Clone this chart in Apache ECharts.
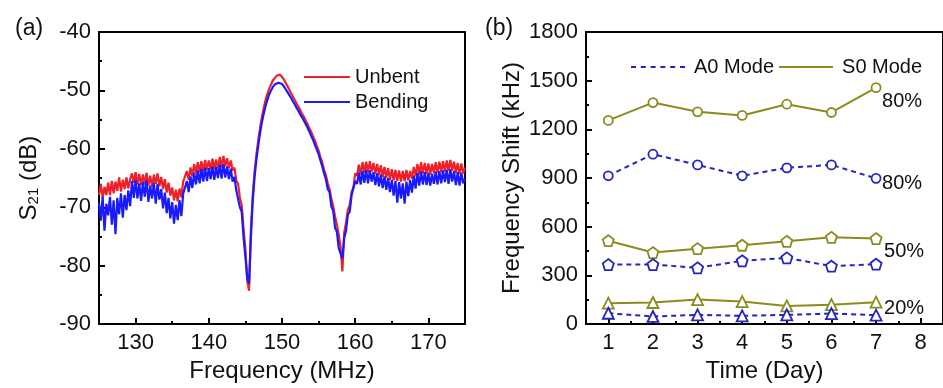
<!DOCTYPE html>
<html><head><meta charset="utf-8">
<script src="https://cdn.jsdelivr.net/npm/echarts@6/dist/echarts.min.js"></script>
<style>html,body{margin:0;padding:0;background:#fff}#c{width:943px;height:388px}</style>
</head><body><div id="c"></div>
<script>
// ---- Panel (a): S21 spectra, sampled every 0.25 MHz from 125 MHz ----
const freqStart = 125, freqStep = 0.25;
const unbent = [
-67.9,-66.0,-68.4,-66.5,-67.9,-65.8,-67.9,-65.5,-67.6,-65.6,-67.2,-64.9,-67.3,-65.3,-66.9,-64.9,-66.8,-65.2,-64.2,-65.8,
-64.0,-66.1,-64.3,-66.2,-64.4,-66.1,-64.1,-66.3,-64.6,-66.5,-64.4,-66.0,-64.2,-66.4,-64.8,-66.9,-65.2,-67.5,-65.8,-68.0,
-66.6,-68.8,-67.0,-69.0,-66.8,-68.3,-65.6,-65.9,-63.8,-65.3,-63.2,-64.7,-62.6,-64.2,-62.3,-64.0,-62.1,-63.9,-61.9,-63.6,
-62.0,-63.6,-61.7,-63.5,-61.8,-63.4,-61.4,-63.2,-61.2,-63.0,-61.6,-63.3,-62.0,-63.7,-63.2,-65.4,-66.0,-68.4,-69.6,-73.7,
-77.2,-82.6,-84.3,-73.8,-67.9,-63.9,-61.0,-58.6,-56.4,-54.6,-53.0,-51.7,-50.6,-49.7,-49.0,-48.3,-47.9,-47.5,-47.2,-47.3,
-47.6,-48.1,-48.7,-49.3,-49.9,-50.5,-51.1,-51.7,-52.3,-52.8,-53.4,-54.0,-54.5,-55.2,-55.8,-56.5,-57.1,-57.9,-58.6,-59.5,
-60.3,-61.4,-62.3,-63.6,-64.5,-65.9,-66.9,-68.6,-69.8,-71.6,-73.0,-74.7,-76.8,-81.0,-74.3,-72.6,-70.4,-69.6,-67.4,-66.6,
-64.2,-64.6,-62.7,-64.4,-62.3,-64.1,-62.2,-64.0,-62.1,-63.9,-62.4,-64.3,-62.6,-64.5,-62.8,-64.8,-63.1,-65.0,-63.3,-65.3,
-63.5,-65.4,-63.6,-65.5,-63.7,-65.6,-63.8,-65.5,-63.6,-65.4,-63.8,-65.1,-63.1,-64.7,-62.6,-64.4,-62.3,-64.2,-62.4,-64.3,
-62.5,-64.4,-62.6,-64.2,-62.3,-64.1,-62.2,-64.0,-62.1,-63.9,-62.0,-63.8,-61.9,-63.7,-62.2,-64.1,-62.4,-64.3,-62.5,-64.2,
-63.2];
const bending = [
-69.2,-72.3,-68.2,-74.0,-69.4,-71.4,-68.2,-73.0,-68.8,-74.6,-68.4,-71.2,-67.6,-71.8,-67.9,-70.5,-67.1,-69.8,-65.5,-68.4,
-65.3,-68.5,-65.9,-68.9,-65.7,-68.2,-65.4,-69.1,-66.3,-68.5,-65.8,-69.4,-66.0,-68.7,-66.9,-70.2,-67.5,-71.0,-68.4,-71.9,
-69.1,-72.8,-69.6,-72.2,-68.8,-71.5,-67.7,-68.0,-65.5,-67.4,-64.7,-66.7,-64.1,-66.1,-63.7,-65.9,-63.4,-65.6,-63.2,-65.5,
-63.3,-65.2,-63.0,-65.3,-63.1,-65.0,-62.7,-65.1,-62.6,-64.9,-63.0,-65.2,-63.4,-65.6,-64.8,-67.1,-67.2,-70.0,-70.8,-75.2,
-78.4,-82.0,-83.1,-75.2,-69.0,-64.9,-61.9,-59.5,-57.3,-55.5,-54.0,-52.7,-51.6,-50.7,-50.0,-49.4,-49.0,-48.8,-48.7,-48.7,
-48.9,-49.3,-49.8,-50.3,-50.8,-51.3,-51.9,-52.4,-53.0,-53.5,-54.1,-54.6,-55.2,-55.8,-56.4,-57.1,-57.8,-58.5,-59.3,-60.1,
-60.9,-62.0,-63.0,-64.2,-65.2,-66.9,-67.4,-69.9,-70.6,-73.5,-74.2,-77.0,-76.8,-78.8,-75.2,-74.0,-71.2,-70.8,-68.0,-67.8,
-65.5,-66.0,-64.1,-66.1,-63.8,-65.8,-63.6,-65.9,-63.7,-65.6,-64.0,-66.2,-64.2,-66.4,-64.4,-66.7,-64.7,-67.0,-65.0,-67.4,
-65.3,-68.0,-65.5,-69.2,-65.7,-68.5,-65.9,-69.4,-65.6,-68.1,-65.3,-67.5,-64.6,-66.8,-64.1,-66.3,-63.8,-66.1,-64.0,-66.2,
-64.1,-66.3,-64.3,-66.0,-63.9,-66.1,-63.8,-65.9,-63.7,-65.7,-63.6,-66.0,-63.5,-65.6,-63.8,-66.2,-64.0,-66.3,-64.1,-65.9,
-65.1];
const xTicksA = [130,140,150,160,170];
const xMinorA = [135,145,155,165];

// ---- Panel (b): frequency shift vs day ----
const days = [1,2,3,4,5,6,7];
const s0_80 = [1255,1365,1308,1286,1355,1304,1457];
const a0_80 = [914,1047,981,914,963,981,898];
const s0_50 = [514,441,465,486,510,535,527];
const a0_50 = [367,367,347,390,408,357,369];
const s0_20 = [129,133,151,139,112,120,135];
const a0_20 = [67,47,57,51,57,65,55];
const xTicksB = [1,2,3,4,5,6,7,8];
const xMinorB = [0.5,1.5,2.5,3.5,4.5,5.5,6.5,7.5,8.5];

const FONT = '"Liberation Sans", Arial, sans-serif';
const RED = '#ee2028', BLUE = '#1a1aff';
const OLIVE = '#8c8c1e', NAVY = '#2424c0';
const PENT = 'path://M50,0 L97.6,34.5 L79.4,90.5 L20.6,90.5 L2.4,34.5 Z';
const DASH_ICON = 'path://M0,0h5v2h-5z M9.8,0h5v2h-5z M19.6,0h5v2h-5z M29.4,0h5v2h-5z M39.2,0h5v2h-5z M49,0h5v2h-5z';

const pair = (arr) => arr.map((v, i) => [freqStart + i * freqStep, v]);
const dpair = (arr) => arr.map((v, i) => [days[i], v]);

function bSeries(name, data, color, dashed, symbol, label, off) {
  const s = {
    name, type: 'line', xAxisIndex: 2, yAxisIndex: 1, data: dpair(data),
    symbol, symbolSize: symbol === 'circle' ? 9 : 11, showSymbol: true,
    lineStyle: { color, width: 2, type: dashed ? [5, 4] : 'solid' },
    itemStyle: { color: '#fff', borderColor: color, borderWidth: 1.8 },
    z: 3
  };
  if (label) {
    s.endLabel = { show: true, formatter: label, color: '#111', fontSize: 20,
      fontFamily: FONT, distance: 6, offset: off };
  }
  return s;
}

const axisText = { color: '#111', fontSize: 22, fontFamily: FONT };
const nameText = { color: '#111', fontSize: 24, fontFamily: FONT };
const legText = { color: '#111', fontSize: 20, fontFamily: FONT, lineHeight: 20 };

const chart = echarts.init(document.getElementById('c'), null, { renderer: 'canvas' });
chart.setOption({
  animation: false,
  backgroundColor: '#fff',
  title: [
    { text: '(a)', left: 10, top: 12, textStyle: { fontSize: 23, fontWeight: 'normal', color: '#111', fontFamily: FONT } },
    { text: '(b)', left: 480, top: 12, textStyle: { fontSize: 23, fontWeight: 'normal', color: '#111', fontFamily: FONT } }
  ],
  grid: [
    { left: 99, top: 32, width: 366, height: 294, show: true, borderColor: '#000', borderWidth: 2, backgroundColor: 'transparent' },
    { left: 586, top: 32, width: 365, height: 294, show: true, borderColor: '#000', borderWidth: 2, backgroundColor: 'transparent' }
  ],
  legend: [
    { data: [{ name: 'Unbent', icon: 'rect' }, { name: 'Bending', icon: 'rect' }], orient: 'vertical',
      left: 299, top: 62, itemWidth: 46, itemHeight: 2, itemGap: 5, textStyle: legText },
    { data: [{ name: 'A0 Mode', icon: DASH_ICON }, { name: 'S0 Mode', icon: 'rect' }], orient: 'horizontal',
      left: 626, top: 52, itemWidth: 54, itemHeight: 2, itemGap: 5,
      textStyle: { ...legText, padding: [0, 0, 0, 4] } }
  ],
  xAxis: [
    { type: 'value', gridIndex: 0, min: 125, max: 175, position: 'bottom',
      name: 'Frequency (MHz)', nameLocation: 'middle', nameGap: 32, nameTextStyle: nameText,
      axisLine: { onZero: false, lineStyle: { color: '#000', width: 2 } },
      axisTick: { inside: true, length: 6, lineStyle: { color: '#000', width: 2 }, customValues: xTicksA },
      axisLabel: { ...axisText, margin: 8, customValues: xTicksA },
      splitLine: { show: false } },
    { type: 'value', gridIndex: 0, min: 125, max: 175, position: 'bottom',
      axisLine: { show: false }, axisLabel: { show: false }, splitLine: { show: false },
      axisTick: { inside: true, length: 3, lineStyle: { color: '#000', width: 2 }, customValues: xMinorA } },
    { type: 'value', gridIndex: 1, min: 0.5, max: 8.5, position: 'bottom',
      name: 'Time (Day)', nameLocation: 'middle', nameGap: 34, nameTextStyle: nameText,
      axisLine: { onZero: false, lineStyle: { color: '#000', width: 2 } },
      axisTick: { inside: true, length: 6, lineStyle: { color: '#000', width: 2 }, customValues: xTicksB },
      axisLabel: { ...axisText, margin: 8, customValues: xTicksB },
      splitLine: { show: false } },
    { type: 'value', gridIndex: 1, min: 0.5, max: 8.5, position: 'bottom',
      axisLine: { show: false }, axisLabel: { show: false }, splitLine: { show: false },
      axisTick: { inside: true, length: 3, lineStyle: { color: '#000', width: 2 }, customValues: xMinorB } }
  ],
  yAxis: [
    { type: 'value', gridIndex: 0, min: -90, max: -40, interval: 10,
      name: 'S{sub|21} (dB)', nameLocation: 'middle', nameGap: 58,
      nameTextStyle: { ...nameText, rich: { sub: { fontSize: 15, fontFamily: FONT, color: '#111', verticalAlign: 'bottom', padding: [8, 0, 0, 0] } } },
      axisLine: { lineStyle: { color: '#000', width: 2 } },
      axisTick: { inside: true, length: 6, lineStyle: { color: '#000', width: 2 } },
      minorTick: { show: true, splitNumber: 2, length: 3, lineStyle: { color: '#000', width: 2 } },
      axisLabel: { ...axisText, margin: 8 }, splitLine: { show: false } },
    { type: 'value', gridIndex: 1, min: 0, max: 1800, interval: 300,
      name: 'Frequency Shift (kHz)', nameLocation: 'middle', nameGap: 62, nameTextStyle: nameText,
      axisLine: { lineStyle: { color: '#000', width: 2 } },
      axisTick: { inside: true, length: 6, lineStyle: { color: '#000', width: 2 } },
      minorTick: { show: true, splitNumber: 2, length: 3, lineStyle: { color: '#000', width: 2 } },
      axisLabel: { ...axisText, margin: 8, formatter: (v) => String(v) }, splitLine: { show: false } }
  ],
  series: [
    { name: 'Unbent', type: 'line', xAxisIndex: 0, yAxisIndex: 0, data: pair(unbent), showSymbol: false,
      symbol: 'none', sampling: 'none', lineStyle: { color: RED, width: 2.2 }, itemStyle: { color: RED } },
    { name: 'Bending', type: 'line', xAxisIndex: 0, yAxisIndex: 0, data: pair(bending), showSymbol: false,
      symbol: 'none', sampling: 'none', lineStyle: { color: BLUE, width: 2.2 }, itemStyle: { color: BLUE } },
    { name: 'A0 Mode', type: 'line', xAxisIndex: 2, yAxisIndex: 1, data: [], symbol: 'none',
      lineStyle: { color: NAVY, width: 2, type: [5, 4] }, itemStyle: { color: NAVY } },
    { name: 'S0 Mode', type: 'line', xAxisIndex: 2, yAxisIndex: 1, data: [], symbol: 'none',
      lineStyle: { color: OLIVE, width: 2 }, itemStyle: { color: OLIVE } },
    bSeries('S0 80%', s0_80, OLIVE, false, 'circle', '80%', [0, 14]),
    bSeries('A0 80%', a0_80, NAVY, true, 'circle', '80%', [0, 5]),
    bSeries('S0 50%', s0_50, OLIVE, false, PENT, '50%', [2, 13]),
    bSeries('A0 50%', a0_50, NAVY, true, PENT, null),
    bSeries('S0 20%', s0_20, OLIVE, false, 'triangle', '20%', [2, 6]),
    bSeries('A0 20%', a0_20, NAVY, true, 'triangle', null)
  ]
});
</script>
</body></html>
